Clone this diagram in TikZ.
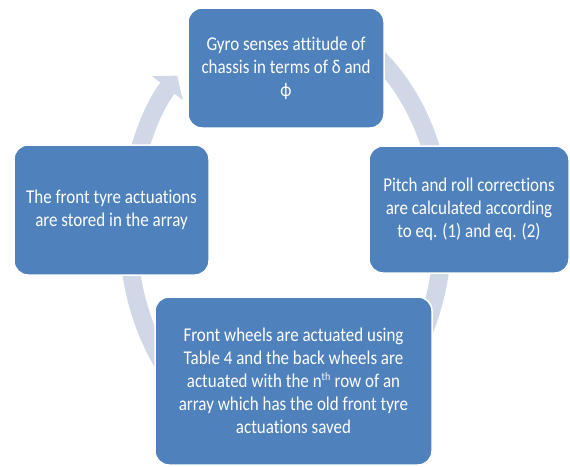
\documentclass[tikz,border=0pt]{standalone}
\usepackage{fontspec}
\setmainfont[FakeStretch=0.87, Ligatures=NoCommon]{Carlito}
\usepackage{xcolor}
\usepackage{tikz}
\usetikzlibrary{arrows.meta}

\definecolor{boxblue}{RGB}{79,129,189}
\definecolor{ringgray}{RGB}{208,216,232}

\begin{document}
\begin{tikzpicture}[x=1pt,y=-1pt,
  stage/.style={draw=white, line width=1.5pt, fill=boxblue, rounded corners=14pt,
    text=white, align=center, inner sep=0pt, font=\fontsize{19.5}{23}\selectfont},
  ring/.style={ringgray, line width=18pt, -{Triangle[width=38pt,length=16pt]}}]
  \useasboundingbox (0,0) rectangle (570,466);
  \coordinate (ringc) at (285.5,230);
  \draw[ring] (ringc) ++(-80:157.5 and 212.5)
    arc[start angle=-80, end angle=226.6, x radius=157.5, y radius=212.5];
  \node[stage, minimum width=196pt, minimum height=120pt] (gyro) at (286,68)
    {Gyro senses attitude of\\chassis  in terms of δ and\\ϕ};
  \node[stage, minimum width=200pt, minimum height=127pt] (corr) at (469,209.5)
    {Pitch and roll  corrections\\are calculated according\\to eq. (1) and eq. (2)};
  \node[stage, minimum width=277pt, minimum height=168pt] (act) at (293.5,381)
    {Front wheels are actuated using\\Table 4 and the back wheels are\\actuated with  the n\textsuperscript{\fontsize{11.5}{12}\selectfont th} row  of an\\array which has the old front tyre\\actuations saved};
  \node[stage, minimum width=195pt, minimum height=130pt] (store) at (111.5,210)
    {The front tyre actuations\\are stored in the array};
\end{tikzpicture}
\end{document}
